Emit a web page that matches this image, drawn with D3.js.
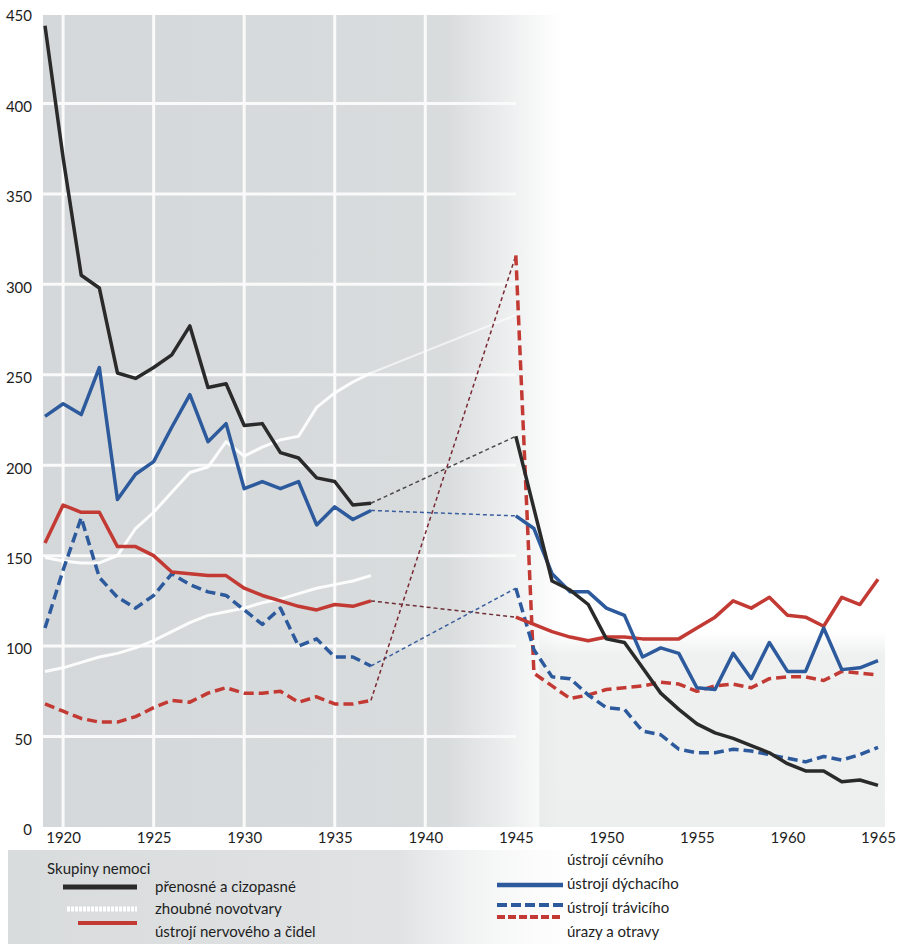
<!DOCTYPE html>
<html>
<head>
<meta charset="utf-8">
<script src="https://cdn.jsdelivr.net/npm/d3@7"></script>
<style>
  body { margin: 0; background: #fff; }
  #graf text { font-family: Lato, "DejaVu Sans", sans-serif; fill: #1e1e1e; }
</style>
</head>
<body>
<div id="graf"></div>
<script>
// Roky
const rokyPred = [1919, 1920, 1921, 1922, 1923, 1924, 1925, 1926, 1927, 1928, 1929, 1930, 1931, 1932, 1933, 1934, 1935, 1936, 1937]
const rokyPo = [1945, 1946, 1947, 1948, 1949, 1950, 1951, 1952, 1953, 1954, 1955, 1956, 1957, 1958, 1959, 1960, 1961, 1962, 1963, 1964, 1965]

// Hodnoty (na 100 000 obyvatel)
const prenosne1 = [443, 370, 305, 298, 251, 248, 254, 261, 277, 243, 245, 222, 223, 207, 204, 193, 191, 178, 179]
const prenosne2 = [216, 176, 136, 131, 123, 104, 102, 88, 74, 65, 57, 52, 49, 45, 41, 35, 31, 31, 25, 26, 23]

const dychaci1 = [227, 234, 228, 254, 181, 195, 202, 221, 239, 213, 223, 187, 191, 187, 191, 167, 177, 170, 175]
const dychaci2 = [172, 165, 140, 130, 130, 121, 117, 94, 99, 96, 77, 76, 96, 82, 102, 86, 86, 110, 87, 88, 92]

const nervovy1 = [157, 178, 174, 174, 155, 155, 150, 141, 140, 139, 139, 132, 128, 125, 122, 120, 123, 122, 125]
const nervovy2 = [116, 112, 108, 105, 103, 105, 105, 104, 104, 104, 110, 116, 125, 121, 127, 117, 116, 111, 127, 123, 137]

const travici1 = [110, 142, 171, 138, 127, 121, 128, 140, 134, 130, 128, 120, 112, 121, 100, 104, 94, 94, 89]
const travici2 = [132, 98, 83, 82, 73, 66, 65, 53, 51, 43, 41, 41, 43, 42, 40, 38, 36, 39, 37, 40, 44]

const urazy1 = [68, 64, 60, 58, 58, 61, 66, 70, 69, 74, 77, 74, 74, 75, 69, 72, 68, 68, 70]
const urazy2 = [316, 85, 78, 71, 73, 76, 77, 78, 80, 79, 75, 78, 79, 77, 82, 83, 83, 81, 86, 85, 84]

const zhoubne1 = [86, 88, 91, 94, 96, 99, 103, 108, 113, 117, 119, 121, 124, 126, 129, 132, 134, 136, 139]
const cevni1 = [149, 147, 146, 146, 150, 165, 174, 185, 196, 199, 213, 205, 210, 214, 216, 232, 240, 246, 251]
const cevni1945 = 283

// Popisky os
const xTicks = [1920, 1925, 1930, 1935, 1940, 1945, 1950, 1955, 1960, 1965]
const yTicks = [0, 50, 100, 150, 200, 250, 300, 350, 400, 450]

const legendaLevo = ['přenosné a cizopasné', 'zhoubné novotvary', 'ústrojí nervového a čidel']
const legendaPravo = ['ústrojí cévního', 'ústrojí dýchacího', 'ústrojí trávicího', 'úrazy a otravy']

const ancho = 902
const alto = 946

const svg = d3.select('#graf')
  .append('svg')
  .attr('width', ancho)
  .attr('height', alto)

// Escalas
const x = d3.scaleLinear().domain([1919, 1965]).range([45, 878])
const y = d3.scaleLinear().domain([0, 450]).range([827, 13])

const defs = svg.append('defs')

const fade = defs.append('linearGradient')
  .attr('id', 'fade')
  .attr('x1', '0%').attr('x2', '100%')
fade.append('stop').attr('offset', '0%').attr('stop-color', '#d5d8da')
fade.append('stop').attr('offset', '78%').attr('stop-color', '#d9dcdd')
fade.append('stop').attr('offset', '100%').attr('stop-color', '#d9dcdd').attr('stop-opacity', 0)

const fadeBand = defs.append('linearGradient')
  .attr('id', 'fadeBand')
  .attr('x1', '0%').attr('x2', '0%').attr('y1', '0%').attr('y2', '100%')
fadeBand.append('stop').attr('offset', '0%').attr('stop-color', '#eff0f0').attr('stop-opacity', 0)
fadeBand.append('stop').attr('offset', '12%').attr('stop-color', '#eff0f0')
fadeBand.append('stop').attr('offset', '100%').attr('stop-color', '#edefef')

const fadeLeg = defs.append('linearGradient')
  .attr('id', 'fadeLeg')
  .attr('x1', '0%').attr('x2', '100%')
fadeLeg.append('stop').attr('offset', '0%').attr('stop-color', '#d9dcdd')
fadeLeg.append('stop').attr('offset', '65%').attr('stop-color', '#e0e2e3')
fadeLeg.append('stop').attr('offset', '100%').attr('stop-color', '#ffffff').attr('stop-opacity', 0)

// Fondo
svg.append('rect')
  .attr('x', x(1946.3)).attr('y', y(108))
  .attr('width', 885 - x(1946.3)).attr('height', y(0) - y(108))
  .attr('fill', 'url(#fadeBand)')

svg.append('rect')
  .attr('x', 43).attr('y', y(450) + 2)
  .attr('width', x(1947.5) - 43).attr('height', y(0) - y(450) - 2)
  .attr('fill', 'url(#fade)')

// Rejilla
const grid = svg.append('g').attr('stroke', '#fafafa').attr('stroke-width', 3)
grid.selectAll('.gv')
  .data(xTicks.filter(d => d <= 1940))
  .join('line')
  .attr('x1', d => x(d)).attr('x2', d => x(d))
  .attr('y1', y(450) + 2).attr('y2', y(0))
grid.selectAll('.gh')
  .data(yTicks.filter(d => d > 0 && d < 450))
  .join('line')
  .attr('x1', 43).attr('x2', x(1945))
  .attr('y1', d => y(d)).attr('y2', d => y(d))

const line = d3.line()
  .x(d => x(d[0]))
  .y(d => y(d[1]))

const pares = (roky, vals) => roky.map((r, i) => [r, vals[i]])

const drawLine = (data, color, width, dash, opacity) => {
  svg.append('path')
    .datum(data)
    .attr('d', line)
    .attr('fill', 'none')
    .attr('stroke', color)
    .attr('stroke-width', width)
    .attr('stroke-linejoin', 'round')
    .attr('stroke-dasharray', dash || null)
    .attr('opacity', opacity || 1)
}

// Lineas blancas
drawLine(pares(rokyPred, cevni1), '#ffffff', 3, null, 0.9)
drawLine([[1937, cevni1[18]], [1945, cevni1945]], '#ffffff', 2, null, 0.6)
drawLine(pares(rokyPred, zhoubne1), '#ffffff', 3, null, 0.9)

// Conexiones 1937-1945
const ultimo = a => a[a.length - 1]
drawLine([[1937, ultimo(prenosne1)], [1945, prenosne2[0]]], '#4a4a4a', 1.5, '4,3')
drawLine([[1937, ultimo(dychaci1)], [1945, dychaci2[0]]], '#3a5f9e', 1.5, '4,3')
drawLine([[1937, ultimo(nervovy1)], [1945, nervovy2[0]]], '#6e3037', 1.5, '4,3')
drawLine([[1937, ultimo(travici1)], [1945, travici2[0]]], '#3a5f9e', 1.5, '4,3')
drawLine([[1937, ultimo(urazy1)], [1945, urazy2[0]]], '#7a2a35', 1.5, '4,3')

// Series
const negro = '#2a2a2a'
const azul = '#2c5a9c'
const rojo = '#c23a33'

drawLine(pares(rokyPred, urazy1), rojo, 3.5, '10,5')
drawLine(pares(rokyPo, urazy2), rojo, 3.5, '10,5')
drawLine(pares(rokyPred, travici1), azul, 3.5, '10,5')
drawLine(pares(rokyPo, travici2), azul, 3.5, '10,5')
drawLine(pares(rokyPred, nervovy1), rojo, 3.5)
drawLine(pares(rokyPo, nervovy2), rojo, 3.5)
drawLine(pares(rokyPred, dychaci1), azul, 3.5)
drawLine(pares(rokyPo, dychaci2), azul, 3.5)
drawLine(pares(rokyPred, prenosne1), negro, 3.5)
drawLine(pares(rokyPo, prenosne2), negro, 3.5)

// Ejes
const yAxis = svg.append('g')
  .attr('transform', 'translate(35, 3)')
  .call(d3.axisLeft(y).tickValues(yTicks).tickSize(0).tickPadding(3))
yAxis.select('.domain').remove()
yAxis.selectAll('text').style('font-size', '15px')

const xAxis = svg.append('g')
  .attr('transform', `translate(0, ${y(0)})`)
  .call(d3.axisBottom(x).tickValues(xTicks).tickFormat(d3.format('d')).tickSize(0).tickPadding(5))
xAxis.select('.domain').remove()
xAxis.selectAll('text').style('font-size', '15px')

// Leyenda
svg.append('rect')
  .attr('x', 8).attr('y', 850)
  .attr('width', 600).attr('height', 94)
  .attr('fill', 'url(#fadeLeg)')

svg.append('text')
  .attr('x', 47).attr('y', 870)
  .attr('dominant-baseline', 'middle')
  .style('font-size', '15px')
  .text('Skupiny nemoci')

const swLevo = [
  { y: 887, color: negro, w: 5, dash: null, x1: 63 },
  { y: 909, color: '#ffffff', w: 5, dash: '3,1', x1: 67 },
  { y: 923, color: rojo, w: 4, dash: null, x1: 78 }
]
svg.selectAll('.swl')
  .data(swLevo)
  .join('line')
  .attr('x1', d => d.x1).attr('x2', 137)
  .attr('y1', d => d.y).attr('y2', d => d.y)
  .attr('stroke', d => d.color)
  .attr('stroke-width', d => d.w)
  .attr('stroke-dasharray', d => d.dash)

svg.selectAll('.tl')
  .data(legendaLevo)
  .join('text')
  .attr('x', 155)
  .attr('y', (d, i) => 888 + i * 22.5)
  .attr('dominant-baseline', 'middle')
  .style('font-size', '15px')
  .text(d => d)

const swPravo = [
  { y: 885, color: azul, dash: null, w: 4.5 },
  { y: 905, color: azul, dash: '10,4', w: 4 },
  { y: 917, color: rojo, dash: '8,3', w: 4 }
]
svg.selectAll('.swr')
  .data(swPravo)
  .join('line')
  .attr('x1', 497).attr('x2', 563)
  .attr('y1', d => d.y).attr('y2', d => d.y)
  .attr('stroke', d => d.color)
  .attr('stroke-width', d => d.w)
  .attr('stroke-dasharray', d => d.dash)

svg.selectAll('.tr')
  .data(legendaPravo)
  .join('text')
  .attr('x', 567)
  .attr('y', (d, i) => 861 + i * 24)
  .attr('dominant-baseline', 'middle')
  .style('font-size', '15px')
  .text(d => d)
</script>
</body>
</html>
